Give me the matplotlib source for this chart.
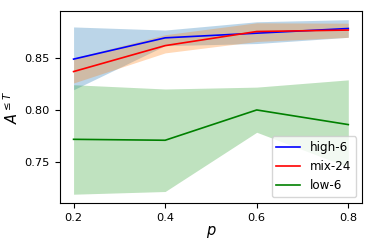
import numpy as np
import matplotlib
matplotlib.use("Agg")
import matplotlib.pyplot as plt

# x values
p = [0.2, 0.4, 0.6, 0.8]

# mean curves
high6 = [0.849, 0.8695, 0.874, 0.8785]
mix24 = [0.837, 0.862, 0.8756, 0.877]
low6 = [0.7717, 0.7708, 0.800, 0.7859]

# band limits
high6_lo = [0.8195, 0.862, 0.864, 0.870]
high6_hi = [0.880, 0.877, 0.885, 0.887]
mix24_lo = [0.826, 0.855, 0.866, 0.870]
mix24_hi = [0.850, 0.8725, 0.884, 0.8836]
low6_lo = [0.7188, 0.7214, 0.7785, 0.745]
low6_hi = [0.8243, 0.8202, 0.822, 0.829]

plt.rcParams['font.size'] = 8.2

fig, ax = plt.subplots(figsize=(3.74, 2.49), dpi=100)

ax.fill_between(p, high6_lo, high6_hi, color='C0', alpha=0.3, linewidth=0)
ax.plot(p, high6, color='blue', label='high-6', linewidth=1.2)
ax.fill_between(p, mix24_lo, mix24_hi, color='C1', alpha=0.3, linewidth=0)
ax.plot(p, mix24, color='red', label='mix-24', linewidth=1.2)
ax.fill_between(p, low6_lo, low6_hi, color='C2', alpha=0.3, linewidth=0)
ax.plot(p, low6, color='green', label='low-6', linewidth=1.2)

ax.set_xticks([0.2, 0.4, 0.6, 0.8])
ax.set_yticks([0.75, 0.80, 0.85])
ax.set_xlabel('$p$', fontsize=10.5, labelpad=1)
ax.set_ylabel(r'$A^{\leq T}$', fontsize=10.5, labelpad=3)
ax.legend(loc='lower right', fontsize=8.6)

fig.subplots_adjust(left=0.16, right=0.968, top=0.956, bottom=0.185)
fig.savefig('out.png')
